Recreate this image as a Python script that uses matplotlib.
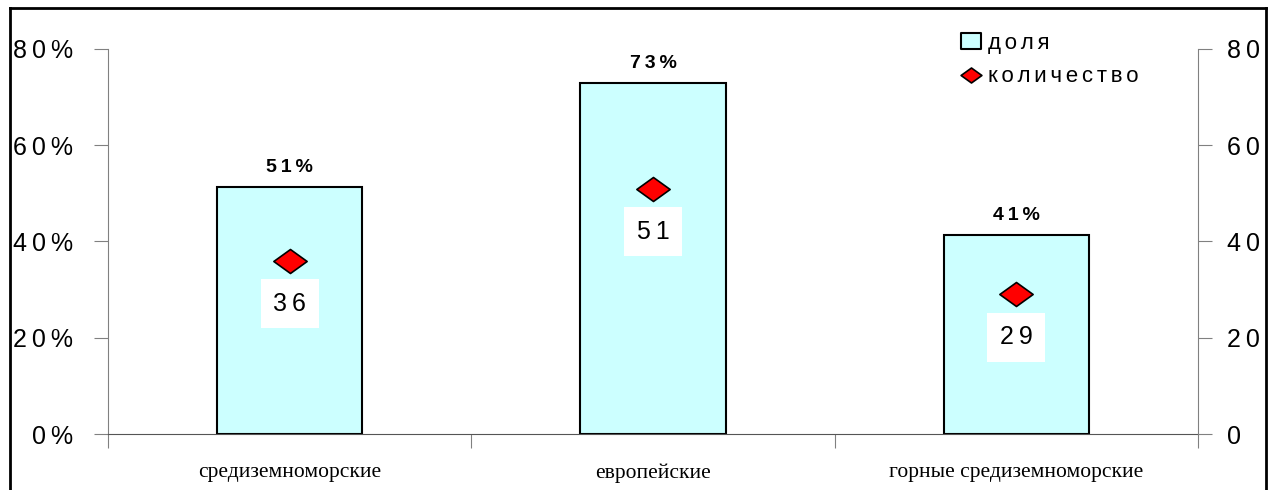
import matplotlib.pyplot as plt
from matplotlib.lines import Line2D
from matplotlib.path import Path
import numpy as np

plt.rcParams['font.family'] = ['Liberation Sans', 'DejaVu Sans']

categories = ['средиземноморские', 'европейские', 'горные средиземноморские']
share = [51.4, 72.9, 41.3]      # доля, %
count = [36, 51, 29]            # количество
y_ticks = [0, 20, 40, 60, 80]
legend_labels = ['доля', 'количество']

bar_color = '#ccffff'
axis_color = '#808080'


def spaced(s, gap='\u2009'):
    # the original uses wide letter spacing
    return gap.join(s)


# wide diamond marker and flat square for the legend
diamond = Path([(-1, 0), (0, 0.72), (1, 0), (0, -0.72), (-1, 0)],
               [Path.MOVETO, Path.LINETO, Path.LINETO, Path.LINETO, Path.CLOSEPOLY])
flat_box = Path([(-1, -0.75), (1, -0.75), (1, 0.75), (-1, 0.75), (-1, -0.75)],
                [Path.MOVETO, Path.LINETO, Path.LINETO, Path.LINETO, Path.CLOSEPOLY])

fig = plt.figure(figsize=(12.76, 4.9), dpi=100)
ax = fig.add_axes([108/1276, 56/490, 1090/1276, 385/490])
ax2 = ax.twinx()

x = np.arange(len(categories))
ax.bar(x, share, width=0.4, color=bar_color, edgecolor='black', linewidth=1.5, zorder=2)
for xi, v in zip(x, share):
    ax.annotate(spaced(f'{v:.0f}%'), (xi, v), xytext=(0, 8), textcoords='offset points',
                ha='center', va='bottom', fontsize=14, fontweight='bold')

ax2.plot(x, count, linestyle='none', marker=diamond, markersize=24,
         markerfacecolor='red', markeredgecolor='black', markeredgewidth=1.2, zorder=3)
for xi, c in zip(x, count):
    ax2.annotate(spaced(str(c)), (xi, c), xytext=(0, -31), textcoords='offset points',
                 ha='center', va='center', fontsize=18,
                 bbox=dict(boxstyle='square,pad=0.5', facecolor='white', edgecolor='none'))

ax.set_xlim(-0.5, len(categories) - 0.5)
ax.set_ylim(0, 80)
ax2.set_ylim(0, 80)

ax.set_yticks(y_ticks)
ax.set_yticklabels([spaced(f'{t}%') for t in y_ticks])
ax2.set_yticks(y_ticks)
ax2.set_yticklabels([spaced(str(t)) for t in y_ticks])

ax.set_xticks(np.arange(-0.5, len(categories)), labels=[''] * (len(categories) + 1))
ax.set_xticks(x, minor=True)
ax.set_xticklabels(categories, minor=True, fontfamily='Liberation Serif', fontsize=15.5)
ax.tick_params(axis='x', which='major', direction='out', length=10, color=axis_color)
ax.tick_params(axis='x', which='minor', length=0, pad=21)
ax.tick_params(axis='y', direction='out', length=10, color=axis_color, labelsize=18, pad=15)
ax2.tick_params(axis='y', direction='out', length=10, color=axis_color, labelsize=18, pad=11)

for a in (ax, ax2):
    a.spines['top'].set_visible(False)
    for s in ('left', 'right', 'bottom'):
        a.spines[s].set_color(axis_color)
ax.spines['right'].set_visible(False)
ax2.spines['left'].set_visible(False)
ax2.spines['bottom'].set_visible(False)
ax.spines['bottom'].set_color('#555555')

handles = [
    Line2D([], [], linestyle='none', marker=flat_box, markersize=15,
           markerfacecolor=bar_color, markeredgecolor='black', markeredgewidth=1.5),
    Line2D([], [], linestyle='none', marker=diamond, markersize=15,
           markerfacecolor='red', markeredgecolor='black', markeredgewidth=1.2),
]
fig.legend(handles, [spaced(s, '\u2006') for s in legend_labels], loc='upper left',
           bbox_to_anchor=(950/1276, 1 - 22/490), frameon=False, fontsize=16,
           handlelength=0.9, handletextpad=0.3, labelspacing=0.55, borderpad=0)

# outer frame
fig.add_artist(Line2D([10/1276, 10/1276], [0, 1 - 8/490], color='black', lw=2))
fig.add_artist(Line2D([1266/1276, 1266/1276], [0, 1 - 8/490], color='black', lw=2))
fig.add_artist(Line2D([10/1276, 1266/1276], [1 - 8/490, 1 - 8/490], color='black', lw=2))

fig.savefig('out.png', dpi=100, facecolor='white')
